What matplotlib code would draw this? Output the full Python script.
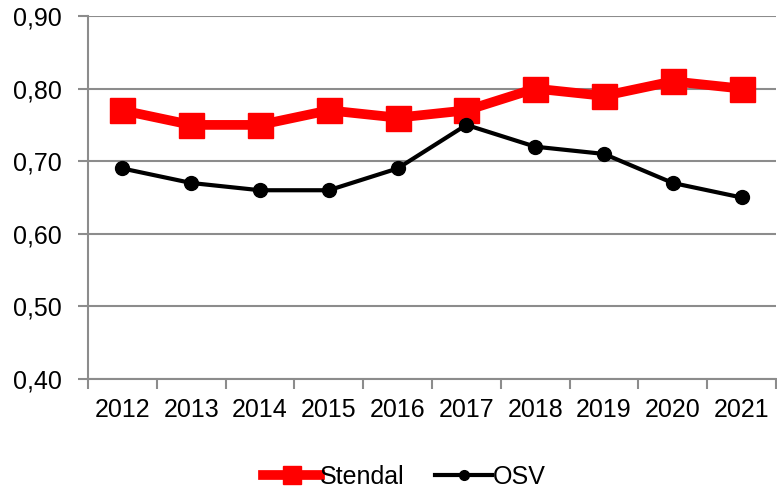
import numpy as np
import matplotlib
matplotlib.use("Agg")
import matplotlib.pyplot as plt
from matplotlib.ticker import FixedLocator, FuncFormatter

plt.rcParams['font.family'] = ['Liberation Sans', 'DejaVu Sans']

years = ["2012", "2013", "2014", "2015", "2016", "2017", "2018", "2019", "2020", "2021"]
stendal = [0.77, 0.75, 0.75, 0.77, 0.76, 0.77, 0.80, 0.79, 0.81, 0.80]
osv = [0.69, 0.67, 0.66, 0.66, 0.69, 0.75, 0.72, 0.71, 0.67, 0.65]

GRID = "#8c8c8c"
FS = 18

fig = plt.figure(figsize=(7.77, 4.94), dpi=100)
ax = fig.add_axes([88 / 777, 1 - 379 / 494, 688 / 777, (379 - 16) / 494])

x = np.arange(len(years))
ax.plot(x, stendal, color="#ff0000", linewidth=7, marker="s", markersize=18,
        label="Stendal", zorder=3)
ax.plot(x, osv, color="black", linewidth=3, marker="o", markersize=10,
        label="OSV", zorder=3)

ax.set_xlim(-0.5, len(years) - 0.5)
ax.set_ylim(0.40, 0.90)
ax.set_yticks(np.arange(0.40, 0.901, 0.10))
ax.yaxis.set_major_formatter(FuncFormatter(lambda v, p: f"{v:.2f}".replace(".", ",")))
ax.grid(axis="y", color=GRID, linewidth=1.5, zorder=0)

# category labels centered, tick marks between categories
ax.set_xticks(x)
ax.set_xticklabels(years)
ax.tick_params(axis="x", which="major", length=0, pad=14, labelsize=FS)
ax.xaxis.set_minor_locator(FixedLocator(np.arange(-0.5, len(years), 1.0)))
ax.tick_params(axis="x", which="minor", length=7, width=1.5, color=GRID, direction="out")
ax.tick_params(axis="y", length=7, width=1.5, color=GRID, direction="out", pad=12,
               labelsize=FS)

for s in ["top", "right"]:
    ax.spines[s].set_visible(False)
for s in ["left", "bottom"]:
    ax.spines[s].set_color(GRID)
    ax.spines[s].set_linewidth(1.5)

fig.legend(loc="lower center", bbox_to_anchor=(0.52, 0.0), borderaxespad=0.0,
           borderpad=0.2, ncol=2, frameon=False,
           fontsize=FS, handlelength=2.3, handletextpad=0.0, columnspacing=1.2,
           markerscale=0.7)

fig.savefig("out.png", dpi=100)
